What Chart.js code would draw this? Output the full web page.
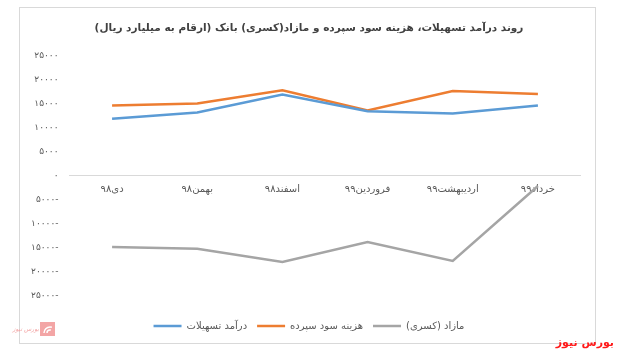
<!DOCTYPE html>
<html>
<head>
<meta charset="utf-8">
<script src="https://cdn.jsdelivr.net/npm/chart.js@4.4.1/dist/chart.umd.min.js"></script>
<style>
html,body{margin:0;padding:0;background:#fff;}
#wrap{width:618px;height:355px;position:relative;}
</style>
</head>
<body>
<div id="wrap"><canvas id="c" width="618" height="355"></canvas></div>
<script>
const categories = ['دی۹۸', 'بهمن۹۸', 'اسفند۹۸', 'فروردین۹۹', 'اردیبهشت۹۹', 'خرداد۹۹'];
const loanIncome = [11860, 13160, 16880, 13430, 12950, 14610];
const depositCost = [14610, 15020, 17770, 13570, 17640, 17020];
const surplusDeficit = [-14800, -15150, -17900, -13760, -17690, -2130];
const seriesNames = ['درآمد تسهیلات', 'هزینه سود سپرده', 'مازاد (کسری)'];
const titleText = 'روند درآمد تسهیلات، هزینه سود سپرده و مازاد(کسری) بانک (ارقام به میلیارد ریال)';
const yMin = -25000, yMax = 25000, yStep = 5000;

const FONT = "'DejaVu Sans', 'Noto Sans', sans-serif";
const faDigits = '۰۱۲۳۴۵۶۷۸۹';
function toFa(n){ return String(n).replace(/[0-9]/g, d => faDigits[+d]); }

const framePlugin = {
  id: 'frame',
  beforeDraw(chart){
    const ctx = chart.ctx;
    ctx.save();
    ctx.fillStyle = '#fff';
    ctx.fillRect(0,0,chart.width,chart.height);
    ctx.strokeStyle = '#d9d9d9';
    ctx.lineWidth = 1;
    ctx.strokeRect(19.5, 7.5, 576, 336);
    ctx.restore();
  },
  afterDraw(chart){
    const ctx = chart.ctx;
    ctx.save();
    // watermark right
    ctx.fillStyle = '#ff1a1a';
    ctx.font = "bold 11px " + FONT;
    ctx.textAlign = 'right';
    ctx.textBaseline = 'middle';
    ctx.fillText('بورس نیوز', 614, 343);
    // logo left
    ctx.fillStyle = '#f3a5a5';
    ctx.fillRect(40, 322, 15, 14);
    ctx.strokeStyle = '#fff';
    ctx.lineWidth = 1.5;
    ctx.beginPath(); ctx.arc(50, 333, 6, Math.PI, 1.6*Math.PI); ctx.stroke();
    ctx.beginPath(); ctx.arc(50, 333, 3, Math.PI, 1.6*Math.PI); ctx.stroke();
    ctx.fillStyle = '#f3a5a5';
    ctx.font = "italic 6px " + FONT;
    ctx.textAlign = 'right';
    ctx.fillText('بورس نیوز', 39, 329);
    ctx.restore();
  }
};

new Chart(document.getElementById('c'), {
  type: 'line',
  data: {
    labels: categories,
    datasets: [
      {label: seriesNames[0], data: loanIncome, borderColor: '#5B9BD5', backgroundColor: '#5B9BD5', borderWidth: 2.5, pointRadius: 0, tension: 0},
      {label: seriesNames[1], data: depositCost, borderColor: '#ED7D31', backgroundColor: '#ED7D31', borderWidth: 2.5, pointRadius: 0, tension: 0},
      {label: seriesNames[2], data: surplusDeficit, borderColor: '#A5A5A5', backgroundColor: '#A5A5A5', borderWidth: 2.5, pointRadius: 0, tension: 0}
    ]
  },
  options: {
    responsive: false,
    animation: false,
    devicePixelRatio: 1,
    layout: {padding: {left: 18, right: 18, top: 7, bottom: 14}},
    plugins: {
      title: {
        display: true,
        text: titleText,
        color: '#404040',
        font: {family: FONT, size: 10.5, weight: 'bold', lineHeight: 1.2},
        padding: {top: 15, bottom: 21}
      },
      legend: {
        position: 'bottom',
        labels: {
          usePointStyle: true,
          pointStyle: 'line',
          pointStyleWidth: 28,
          color: '#595959',
          font: {family: FONT, size: 10},
          padding: 10,
          boxHeight: 10
        }
      },
      tooltip: {enabled: false}
    },
    scales: {
      x: {
        position: {y: 0},
        offset: true,
        grid: {display: false, drawTicks: false},
        border: {display: true, color: '#d9d9d9', width: 1},
        ticks: {color: '#595959', font: {family: FONT, size: 10}, padding: 8, maxRotation: 0}
      },
      xb: {
        position: 'bottom',
        offset: true,
        grid: {display: false, drawTicks: false},
        border: {display: false},
        ticks: {display: false},
        afterFit: s => { s.height = 15; }
      },
      y: {
        min: yMin, max: yMax,
        grid: {display: false, drawTicks: false},
        border: {display: false},
        ticks: {
          stepSize: yStep,
          color: '#595959',
          font: {family: FONT, size: 9},
          padding: 11,
          callback: v => v < 0 ? toFa(-v) + '-' : toFa(v)
        },
        afterFit: s => { s.width = 51.5; }
      },
      yr: {
        position: 'right',
        min: yMin, max: yMax,
        grid: {display: false, drawTicks: false},
        border: {display: false},
        ticks: {display: false},
        afterFit: s => { s.width = 19.5; }
      }
    }
  },
  plugins: [framePlugin]
});
</script>
</body>
</html>
